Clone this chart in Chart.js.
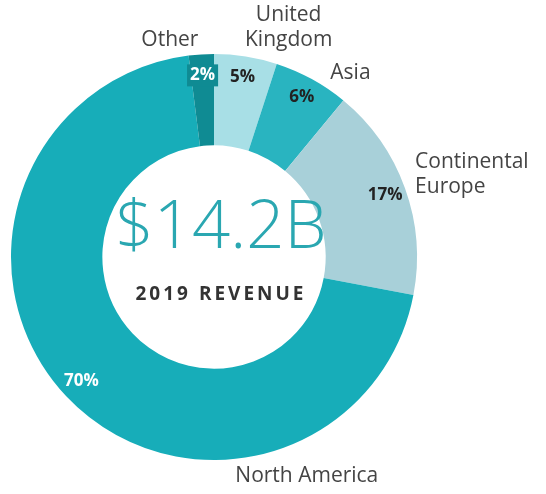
<!DOCTYPE html>
<html>
<head>
<meta charset="utf-8">
<script src="https://cdn.jsdelivr.net/npm/chart.js@4/dist/chart.umd.min.js"></script>
<style>
  html, body { margin: 0; padding: 0; background: #fff; }
  #wrap { width: 546px; height: 494px; position: relative; }
</style>
</head>
<body>
<div id="wrap"><canvas id="grafico-ingresos"></canvas></div>
<script>
// Datos del gráfico
const regiones = ['United Kingdom', 'Asia', 'Continental Europe', 'North America', 'Other'];
const porcentajes = [5, 6, 17, 70, 2];
const etiquetasNombre = [['United', 'Kingdom'], ['Asia'], ['Continental', 'Europe'], ['North America'], ['Other']];
const colores = ['#a8dfe6', '#29b4c0', '#a8d0d9', '#17adb9', '#0f8b93'];
const totalTexto = '$14.2B';
const subtitulo = '2019 REVENUE';

// Estilo de cada porcentaje: color del texto y caja de fondo opcional
const estiloPct = [
    { color: '#222', caja: null },
    { color: '#222', caja: null },
    { color: '#222', caja: null },
    { color: '#fff', caja: null },
    { color: '#fff', caja: '#0f8b93' }
];

// Ubicación de los nombres (ángulo en grados desde arriba, distancia en radios, alineación)
const ubicNombre = [
    { ang: 18, dist: 1.19, align: 'center' },
    { ang: 36.5, dist: 1.13, align: 'center' },
    { ang: 67.8, dist: 1.07, align: 'left' },
    { ang: 157, dist: 1.17, align: 'center' },
    { ang: 348.5, dist: 1.09, align: 'center' }
];

const pluginEtiquetas = {
    id: 'etiquetas',
    afterDraw(chart) {
        const ctx = chart.ctx;
        const arcs = chart.getDatasetMeta(0).data;
        const cx = arcs[0].x, cy = arcs[0].y;
        const rOut = arcs[0].outerRadius, rIn = arcs[0].innerRadius;
        ctx.save();

        // Porcentajes dentro de cada sector
        ctx.font = 'bold 17px "Open Sans", sans-serif';
        ctx.textAlign = 'center';
        ctx.textBaseline = 'middle';
        arcs.forEach((arc, i) => {
            const mid = (arc.startAngle + arc.endAngle) / 2;
            const r = rIn + (rOut - rIn) * 0.77;
            const x = cx + Math.cos(mid) * r;
            const y = cy + Math.sin(mid) * r;
            const txt = porcentajes[i] + '%';
            if (estiloPct[i].caja) {
                const w = ctx.measureText(txt).width + 6;
                ctx.fillStyle = estiloPct[i].caja;
                ctx.fillRect(x - w / 2, y - 11, w, 22);
            }
            ctx.fillStyle = estiloPct[i].color;
            ctx.fillText(txt, x, y);
        });

        // Nombres de las regiones
        ctx.font = '21px "Open Sans", sans-serif';
        ctx.fillStyle = '#444';
        etiquetasNombre.forEach((lineas, i) => {
            const u = ubicNombre[i];
            const a = (u.ang - 90) * Math.PI / 180;
            const x = cx + Math.cos(a) * rOut * u.dist;
            const y = cy + Math.sin(a) * rOut * u.dist;
            ctx.textAlign = u.align;
            const alto = 25;
            const y0 = y - (lineas.length - 1) * alto / 2;
            lineas.forEach((l, k) => ctx.fillText(l, x, y0 + k * alto));
        });

        // Texto central
        ctx.textAlign = 'center';
        ctx.fillStyle = '#2aa7b1';
        ctx.font = '300 67px "Open Sans", sans-serif';
        ctx.fillText(totalTexto, cx + 7, cy - 28);
        ctx.fillStyle = '#333';
        ctx.font = 'bold 19px "Open Sans", sans-serif';
        ctx.letterSpacing = '3px';
        ctx.fillText(subtitulo, cx + 7, cy + 38);
        ctx.restore();
    }
};

new Chart(document.getElementById('grafico-ingresos'), {
    type: 'doughnut',
    data: {
        labels: regiones,
        datasets: [{
            data: porcentajes,
            backgroundColor: colores,
            borderWidth: 0
        }]
    },
    options: {
        responsive: true,
        maintainAspectRatio: false,
        animation: false,
        cutout: '55%',
        layout: { padding: { left: 11, right: 129, top: 54, bottom: 34 } },
        plugins: {
            legend: { display: false },
            tooltip: { enabled: false }
        }
    },
    plugins: [pluginEtiquetas]
});
</script>
</body>
</html>
